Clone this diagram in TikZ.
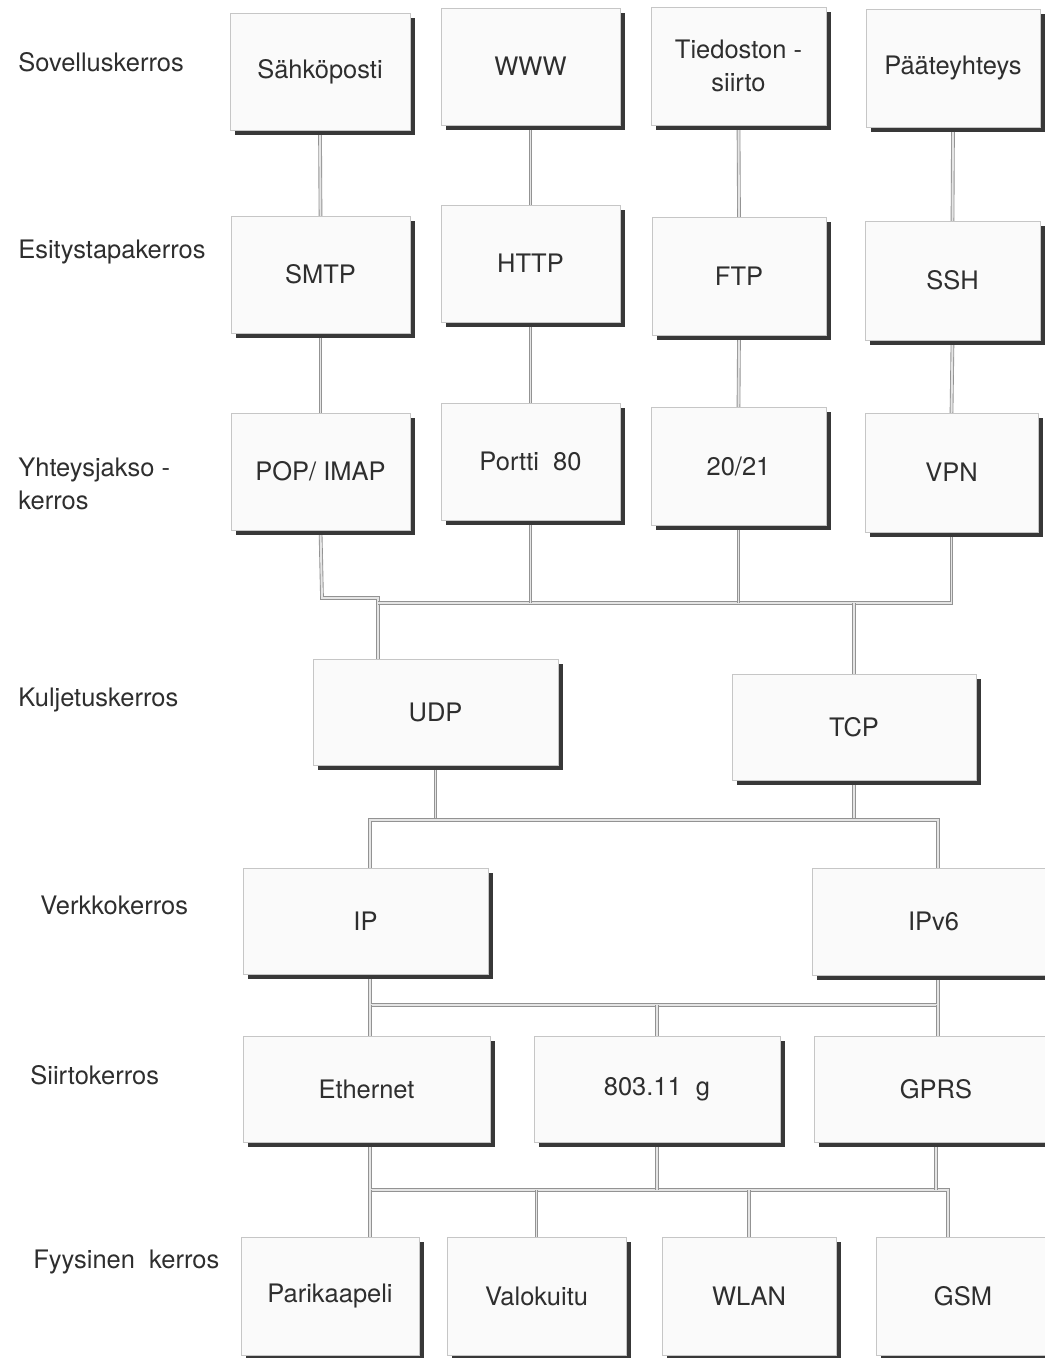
\documentclass[tikz,border=0pt]{standalone}
\usepackage{fontspec}
\setmainfont{TeX Gyre Heros}
\usepackage{tikz}
\usetikzlibrary{shadows,backgrounds}

\begin{document}
\begin{tikzpicture}[x=0.02cm,y=-0.02cm,
        layerbox/.style={draw=gray!45, fill=gray!4, inner sep=0pt, outer sep=0pt,
            align=center, text=black!82, font=\fontsize{14.5}{18.5}\selectfont,
            drop shadow={shadow xshift=0.1cm, shadow yshift=-0.1cm, fill=black!78, opacity=1}},
        bx/.style 2 args={minimum width=#1*0.02cm, minimum height=#2*0.02cm},
        layername/.style={anchor=west, align=left, inner sep=0pt, text=black!82,
            font=\fontsize{14.5}{18.5}\selectfont},
        wire/.style={draw=gray!85, line width=0.5pt, double=gray!20, double distance=1.1pt}]
        \path[use as bounding box] (0,0) rectangle (1044,1358);
        % Layer names
        \node[layername] (l1) at (18,62) {Sovelluskerros};
        \node[layername] (l2) at (18,252) {Esitystapakerros};
        \node[layername] (l3) at (18,484) {Yhteysjakso -\\kerros};
        \node[layername] (l4) at (18,700) {Kuljetuskerros};
        \node[layername] (l5) at (40,905) {Verkkokerros};
        \node[layername] (l6) at (30,1075) {Siirtokerros};
        \node[layername] (l7) at (33,1262) {Fyysinen\ \ kerros};
        % Application boxes
        \node[layerbox, bx={180}{117}] (sahko) at (320,71.5) {Sähköposti};
        \node[layerbox, bx={179}{117}] (www) at (530.5,66.5) {WWW};
        \node[layerbox, bx={175}{118}] (tied) at (738.5,66) {Tiedoston -\\siirto};
        \node[layerbox, bx={174}{118}] (paate) at (953,68) {Pääteyhteys};
        % Presentation boxes
        \node[layerbox, bx={179}{117}] (smtp) at (320.5,274.5) {SMTP};
        \node[layerbox, bx={179}{117}] (http) at (530.5,263.5) {HTTP};
        \node[layerbox, bx={174}{118}] (ftp) at (739,276) {FTP};
        \node[layerbox, bx={175}{119}] (ssh) at (952.5,280.5) {SSH};
        % Session boxes
        \node[layerbox, bx={179}{117}] (pop) at (320.5,471.5) {POP/ IMAP};
        \node[layerbox, bx={179}{117}] (portti) at (530.5,461.5) {Portti\ \ 80};
        \node[layerbox, bx={175}{118}] (ports) at (738.5,466) {20/21};
        \node[layerbox, bx={173}{119}] (vpn) at (951.5,472.5) {VPN};
        % Transport boxes
        \node[layerbox, bx={245}{106}] (udp) at (435.5,712) {UDP};
        \node[layerbox, bx={244}{106}] (tcp) at (854,727) {TCP};
        % Network boxes
        \node[layerbox, bx={245}{106}] (ip) at (365.5,921) {IP};
        \node[layerbox, bx={243}{107}] (ipv6) at (933.5,921.5) {IPv6};
        % Link boxes
        \node[layerbox, bx={247}{106}] (eth) at (366.5,1089) {Ethernet};
        \node[layerbox, bx={246}{106}] (wifi) at (657,1089) {803.11\ \ g};
        \node[layerbox, bx={244}{106}] (gprs) at (936,1089) {GPRS};
        % Physical boxes
        \node[layerbox, bx={178}{118}] (pari) at (330,1296) {Parikaapeli};
        \node[layerbox, bx={179}{118}] (valo) at (536.5,1296) {Valokuitu};
        \node[layerbox, bx={174}{118}] (wlan) at (749,1296) {WLAN};
        \node[layerbox, bx={174}{118}] (gsm) at (963,1296) {GSM};
        % Bus points
        \coordinate (j0) at (322,598);
        \coordinate (j1) at (378,603);
        \coordinate (j2) at (370,820);
        \coordinate (j2r) at (938,820);
        \coordinate (j3) at (370,1005);
        \coordinate (j3r) at (938,1005);
        \coordinate (j4) at (370,1190);
        \coordinate (j4r) at (948,1190);
        \begin{scope}[on background layer]
            % Upper layers
            \draw[wire] (sahko.south) -- (smtp.north);
            \draw[wire] (www.south) -- (http.north);
            \draw[wire] (tied.south) -- (ftp.north);
            \draw[wire] (paate.south) -- (ssh.north);
            \draw[wire] (smtp.south) -- (pop.north);
            \draw[wire] (http.south) -- (portti.north);
            \draw[wire] (ftp.south) -- (ports.north);
            \draw[wire] (ssh.south) -- (vpn.north);
            % Session to transport
            \draw[wire] (pop.south) -- (j0) -| (j1) -- (j1 |- udp.north);
            \draw[wire] (j1) -- (j1 -| vpn.south) -- (vpn.south);
            \draw[wire] (portti.south) -- (portti.south |- j1);
            \draw[wire] (ports.south) -- (ports.south |- j1);
            \draw[wire] (tcp.north) -- (tcp.north |- j1);
            % Transport to network
            \draw[wire] (udp.south) -- (udp.south |- j2);
            \draw[wire] (tcp.south) -- (tcp.south |- j2);
            \draw[wire] (j2 |- ip.north) -- (j2) -- (j2r) -- (j2r |- ipv6.north);
            % Network to link
            \draw[wire] (j3 |- ip.south) -- (j3) -- (j3r) -- (j3r |- ipv6.south);
            \draw[wire] (j3) -- (j3 |- eth.north);
            \draw[wire] (j3r) -- (j3r |- gprs.north);
            \draw[wire] (wifi.north) -- (wifi.north |- j3);
            % Link to physical
            \draw[wire] (j4 |- eth.south) -- (j4) -- (j4r) -- (j4r |- gsm.north);
            \draw[wire] (wifi.south) -- (wifi.south |- j4);
            \draw[wire] (gprs.south) -- (gprs.south |- j4);
            \draw[wire] (j4) -- (j4 |- pari.north);
            \draw[wire] (valo.north) -- (valo.north |- j4);
            \draw[wire] (wlan.north) -- (wlan.north |- j4);
        \end{scope}
    \end{tikzpicture}
\end{document}
